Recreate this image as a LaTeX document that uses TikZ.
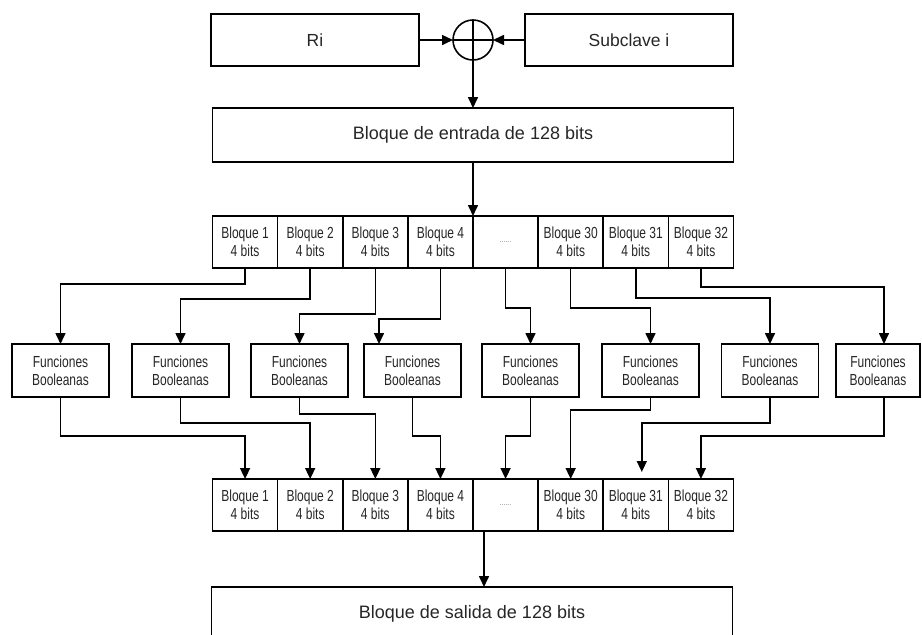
\documentclass[tikz,border=0pt]{standalone}
\usepackage{fontspec}
\setmainfont{Liberation Sans}
\newfontfamily\narrowsf[FakeStretch=0.75]{Liberation Sans}
\usetikzlibrary{arrows.meta,positioning,calc}

\begin{document}
\begin{tikzpicture}[
	x=1pt, y=-1pt,
	block/.style={draw, line width=1.6pt, minimum width=521pt, minimum height=54pt, inner sep=0pt, outer sep=0pt, text=black!85, font=\fontsize{18}{20}\selectfont},
	inbox/.style={block, minimum width=208pt, minimum height=52pt, font=\fontsize{17.5}{20}\selectfont},
	cell/.style={draw, line width=1.6pt, minimum width=65.125pt, minimum height=52pt, inner sep=0pt, outer sep=0pt, align=center, text=black!85, font=\narrowsf\fontsize{16}{18}\selectfont},
	fbox/.style={cell, minimum width=97pt, minimum height=53pt},
	line/.style={-{Triangle[length=11pt,width=10pt]}, line width=1.6pt}
	]
	\useasboundingbox (0,0) rectangle (922,635);

	% entrada
	\node[inbox] (ri) at (315,40) {Ri};
	\node[circle, draw, line width=1.6pt, minimum size=40pt, inner sep=0pt, outer sep=0pt] (xor) at (473,40) {};
	\draw[line width=1.6pt] (xor.north) -- (xor.south) (xor.west) -- (xor.east);
	\node[inbox] (sub) at (629,40) {Subclave i};
	\node[block] (entrada) at (473,135) {Bloque de entrada de 128 bits};

	% bloques de 4 bits
	\node[cell] (t1) at (245.06,242) {Bloque 1\\4 bits};
	\node[cell, right=0pt of t1] (t2) {Bloque 2\\4 bits};
	\node[cell, right=0pt of t2] (t3) {Bloque 3\\4 bits};
	\node[cell, right=0pt of t3] (t4) {Bloque 4\\4 bits};
	\node[cell, right=0pt of t4] (t5) {\textcolor{gray}{\fontsize{9}{9}\selectfont ......}};
	\node[cell, right=0pt of t5] (t6) {Bloque 30\\4 bits};
	\node[cell, right=0pt of t6] (t7) {Bloque 31\\4 bits};
	\node[cell, right=0pt of t7] (t8) {Bloque 32\\4 bits};

	% funciones
	\node[fbox] (f1) at (60.5,370.5) {Funciones\\Booleanas};
	\node[fbox] (f2) at (180.5,370.5) {Funciones\\Booleanas};
	\node[fbox] (f3) at (299.5,370.5) {Funciones\\Booleanas};
	\node[fbox] (f4) at (412.5,370.5) {Funciones\\Booleanas};
	\node[fbox] (f5) at (530.5,370.5) {Funciones\\Booleanas};
	\node[fbox] (f6) at (650.5,370.5) {Funciones\\Booleanas};
	\node[fbox] (f7) at (770,370.5) {Funciones\\Booleanas};
	\node[fbox, minimum width=84pt] (f8) at (878,370.5) {Funciones\\Booleanas};

	% salida
	\node[cell] (b1) at (245.06,505) {Bloque 1\\4 bits};
	\node[cell, right=0pt of b1] (b2) {Bloque 2\\4 bits};
	\node[cell, right=0pt of b2] (b3) {Bloque 3\\4 bits};
	\node[cell, right=0pt of b3] (b4) {Bloque 4\\4 bits};
	\node[cell, right=0pt of b4] (b5) {\textcolor{gray}{\fontsize{9}{9}\selectfont ......}};
	\node[cell, right=0pt of b5] (b6) {Bloque 30\\4 bits};
	\node[cell, right=0pt of b6] (b7) {Bloque 31\\4 bits};
	\node[cell, right=0pt of b7] (b8) {Bloque 32\\4 bits};
	\node[block] (salida) at (472,614) {Bloque de salida de 128 bits};

	\draw[line] (ri) -- (xor);
	\draw[line] (sub) -- (xor);
	\draw[line] (xor) -- (entrada);
	\draw[line] (entrada.south) -- (t4.north east);

	\draw[line] (t1.south) -- ++(0,16) -| (f1.north);
	\draw[line] (t2.south) -- ++(0,31) -| (f2.north);
	\draw[line] (t3.south) -- ++(0,46) -| (f3.north);
	\draw[line] (t4.south) -- ++(0,51) -| ($(f4.north)+(-33.5,0)$);
	\draw[line] (t5.south) -- ++(0,40) -| (f5.north);
	\draw[line] (t6.south) -- ++(0,40) -| (f6.north);
	\draw[line] (t7.south) -- ++(0,30) -| (f7.north);
	\draw[line] (t8.south) -- ++(0,19) -| ($(f8.north)+(6,0)$);

	\draw[line] (f1.south) -- ++(0,39) -| (b1.north);
	\draw[line] (f2.south) -- ++(0,26) -| (b2.north);
	\draw[line] (f3.south) -- ++(0,17) -| (b3.north);
	\draw[line] (f4.south) -- ++(0,39) -| (b4.north);
	\draw[line] (f5.south) -- ++(0,39) -| (b5.north);
	\draw[line] (f6.south) -- ++(0,13) -| (b6.north);
	\draw[line] (f7.south) -- ++(0,26) -| ($(b7.north)+(6,-7)$);
	\draw[line] ($(f8.south)+(6,0)$) -- ++(0,39) -| (b8.north);

	\draw[line] ($(b5.south west)+(11,0)$) coordinate (out) -- (out |- salida.north);
\end{tikzpicture}
\end{document}
